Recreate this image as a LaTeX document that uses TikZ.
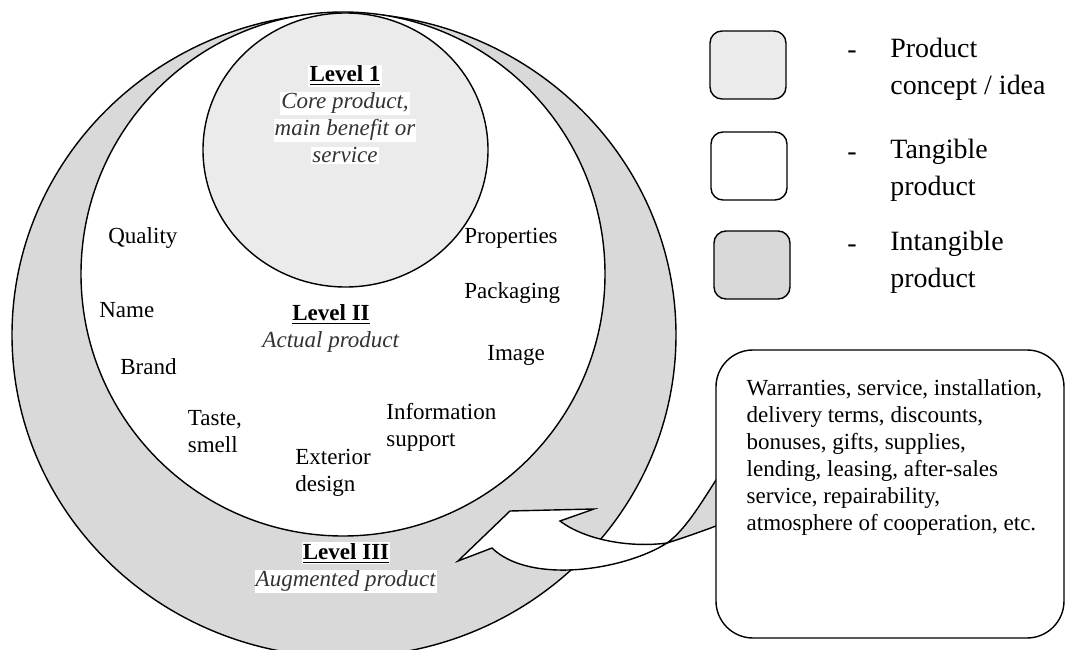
\documentclass[tikz,border=0pt]{standalone}
\usepackage{fontspec}
\setmainfont{Liberation Serif}
\usetikzlibrary{positioning,shapes}

\newcommand{\diagfont}{\fontsize{13.1}{15.4}\selectfont}
\newcommand{\legfont}{\fontsize{15.9}{21.1}\selectfont}
\newcommand{\wbox}[1]{\colorbox{white}{#1}}
\newcommand{\lvl}[1]{\wbox{\underline{\textbf{#1}}}}
\newcommand{\desc}[1]{\wbox{\textcolor{black!80}{\textit{#1}}}}
\setlength{\fboxsep}{0.6pt}

\begin{document}
\begin{tikzpicture}[
  every node/.style={font=\diagfont},
  ring/.style={draw, line width=0.8pt},
  item/.style={anchor=west, inner sep=0pt, align=left},
  caption/.style={align=center, inner sep=0pt},
  key/.style={draw, line width=0.8pt, rounded corners=0.24cm, minimum width=1.52cm, minimum height=1.36cm},
  keytext/.style={anchor=west, inner sep=0pt, align=left, font=\legfont}
]

\useasboundingbox (0,0) rectangle (21.38,12.98);

% the three levels
\node[ring, ellipse, fill=black!15, minimum width=13.28cm, minimum height=12.88cm] (augmented) at (6.88,6.28) {};
\node[ring, circle, fill=white, minimum size=10.48cm] (actual) at (6.86,7.50) {};
\node[ring, ellipse, fill=black!8, minimum width=5.70cm, minimum height=5.48cm] (core) at (6.91,9.98) {};

\node[caption] (lvlone) at (6.90,10.69) {\lvl{Level 1}\\ \desc{Core product,}\\ \desc{main benefit or}\\ \desc{service}};
\node[caption] (lvltwo) at (6.62,6.41) {\lvl{Level II}\\ \desc{Actual product}};
\node[caption] (lvlthree) at (6.92,1.63) {\lvl{Level III}\\ \desc{Augmented product}};

\node[item] (quality) at (2.16,8.22) {Quality};
\node[item] (name) at (1.98,6.78) {Name};
\node[item] (brand) at (2.40,5.64) {Brand};
\node[item] (taste) at (3.75,4.34) {Taste,\\smell};
\node[item] (exterior) at (5.90,3.53) {Exterior\\design};
\node[item] (info) at (7.72,4.44) {Information\\support};
\node[item] (properties) at (9.28,8.22) {Properties};
\node[item] (packaging) at (9.28,7.12) {Packaging};
\node[item] (image) at (9.74,5.88) {Image};

% curved arrow from the box
\draw[line width=0.8pt, fill=black!15] (13.34,2.12) .. controls (13.70,2.38) and (14.00,2.88) .. (14.32,3.38) -- (14.60,3.74) -- (14.60,2.54) -- (14.32,2.46) .. controls (14.00,2.34) and (13.60,2.20) .. cycle;
\draw[line width=0.8pt, fill=white] (9.16,1.76) -- (10.20,2.76) -- (11.88,2.80) -- (11.20,2.56) .. controls (11.70,2.18) and (12.60,2.02) .. (13.34,2.12) .. controls (12.50,1.58) and (10.60,1.28) .. (9.84,2.02) -- cycle;

\node[draw, line width=0.8pt, fill=white, rounded corners=0.74cm, minimum width=6.96cm, minimum height=5.76cm] (extras) at (17.80,3.10) {};
\node[below right=0.6cm and 0.62cm of extras.north west, inner sep=0pt, align=left] (extrastext) {Warranties, service, installation,\\ delivery terms, discounts,\\ bonuses, gifts, supplies,\\ lending, leasing, after-sales\\ service, repairability,\\ atmosphere of cooperation, etc.};

% legend
\node[key, fill=black!8] (keycore) at (14.96,11.68) {};
\node[key, fill=white] (keyactual) at (14.98,9.66) {};
\node[key, fill=black!15] (keyaug) at (15.04,7.68) {};

\node[font=\legfont, inner sep=0pt] (dashcore) at (17.04,11.88) {-};
\node[font=\legfont, inner sep=0pt] (dashactual) at (17.04,9.84) {-};
\node[font=\legfont, inner sep=0pt] (dashaug) at (17.04,8.00) {-};

\node[keytext] (keycoretext) at (17.80,11.60) {Product\\concept / idea};
\node[keytext] (keyactualtext) at (17.80,9.58) {Tangible\\product};
\node[keytext] (keyaugtext) at (17.80,7.73) {Intangible\\product};

\end{tikzpicture}
\end{document}
